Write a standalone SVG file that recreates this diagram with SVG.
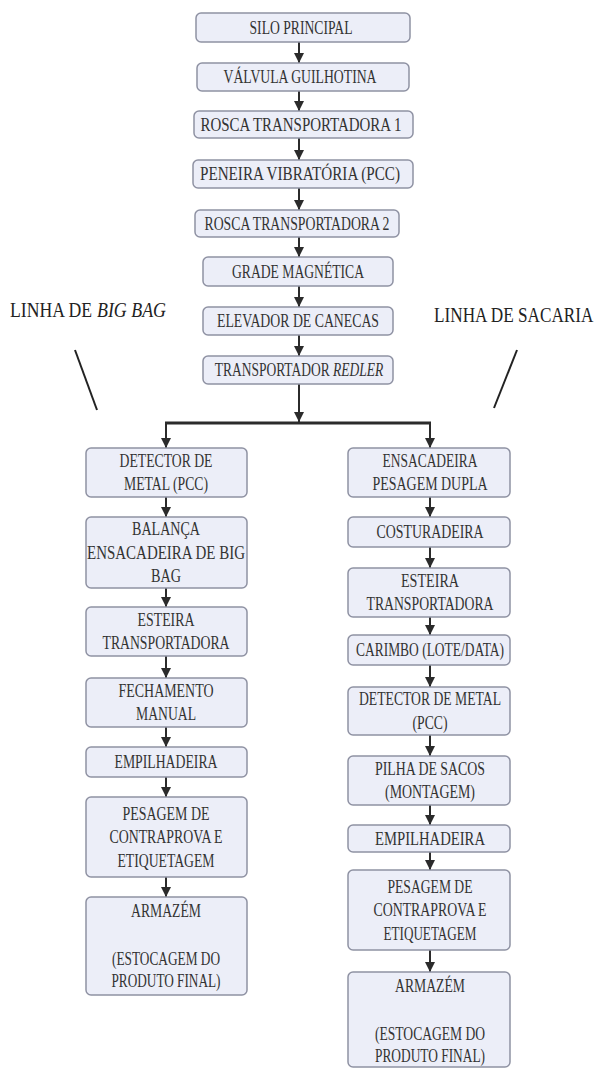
<svg xmlns="http://www.w3.org/2000/svg" width="602" height="1068" viewBox="0 0 602 1068">
<defs>
<marker id="ah" markerUnits="userSpaceOnUse" markerWidth="10" markerHeight="10" viewBox="0 0 10 10" refX="10" refY="5" orient="auto">
<path d="M0,0 L10,5 L0,10 z" fill="#2b2b2b"/>
</marker>
<style>
.box{fill:#eceef8;stroke:#8f92a3;stroke-width:1.5}
.t{font-family:"Liberation Serif","Times New Roman",serif;font-size:18px;fill:#333;text-anchor:middle}
.lbl{font-family:"Liberation Serif","Times New Roman",serif;font-size:20px;fill:#222}
.c{fill:none;stroke:#2b2b2b;stroke-width:2;marker-end:url(#ah)}
.bus{fill:none;stroke:#2b2b2b;stroke-width:3}
.sl{stroke:#222;stroke-width:2}
</style>
</defs>
<rect width="602" height="1068" fill="#ffffff"/>

<g id="labels">
<text class="lbl" x="10" y="317" textLength="82" lengthAdjust="spacingAndGlyphs">LINHA DE</text>
<text class="lbl" x="97" y="317" textLength="69" lengthAdjust="spacingAndGlyphs" font-style="italic">BIG BAG</text>
<text class="lbl" transform="translate(434,322) scale(0.86,1)" x="0" y="0">LINHA DE SACARIA</text>
<line class="sl" x1="75" y1="350" x2="97" y2="410"/>
<line class="sl" x1="517" y1="350" x2="494" y2="408"/>
</g>

<g id="connectors">
<path class="c" d="M299 42 V63"/>
<path class="c" d="M299 91 V111"/>
<path class="c" d="M299 138 V160"/>
<path class="c" d="M299 188 V210"/>
<path class="c" d="M299 237 V257"/>
<path class="c" d="M299 286 V307"/>
<path class="c" d="M299 335 V356"/>
<path class="c" d="M299 384 V422"/>
<path class="bus" d="M165 423 H431"/>
<path class="c" d="M166 423 V448"/>
<path class="c" d="M166 497 V517"/>
<path class="c" d="M166 588 V607"/>
<path class="c" d="M166 656 V678"/>
<path class="c" d="M166 727 V747"/>
<path class="c" d="M166 777 V797"/>
<path class="c" d="M166 877 V897"/>
<path class="c" d="M430 423 V448"/>
<path class="c" d="M430 497 V517"/>
<path class="c" d="M430 547 V568"/>
<path class="c" d="M430 617 V635"/>
<path class="c" d="M430 665 V687"/>
<path class="c" d="M430 735 V756"/>
<path class="c" d="M430 805 V825"/>
<path class="c" d="M430 852 V870"/>
<path class="c" d="M430 950 V972"/>
</g>

<g id="n-silo"><rect class="box" x="196" y="13" width="214" height="29" rx="5"/>
<text class="t" x="301" y="33.5" textLength="103" lengthAdjust="spacingAndGlyphs">SILO PRINCIPAL</text></g>
<g id="n-valvula"><rect class="box" x="197" y="63" width="212" height="28" rx="5"/>
<text class="t" x="300" y="83" textLength="153" lengthAdjust="spacingAndGlyphs">VÁLVULA GUILHOTINA</text></g>
<g id="n-rosca1"><rect class="box" x="194" y="111" width="219" height="27" rx="5"/>
<text class="t" x="301" y="130.5" textLength="201" lengthAdjust="spacingAndGlyphs">ROSCA TRANSPORTADORA 1</text></g>
<g id="n-peneira"><rect class="box" x="193" y="160" width="220" height="28" rx="5"/>
<text class="t" x="300" y="180" textLength="200" lengthAdjust="spacingAndGlyphs">PENEIRA VIBRATÓRIA (PCC)</text></g>
<g id="n-rosca2"><rect class="box" x="195" y="210" width="204" height="27" rx="5"/>
<text class="t" x="297" y="229.5" textLength="185" lengthAdjust="spacingAndGlyphs">ROSCA TRANSPORTADORA 2</text></g>
<g id="n-grade"><rect class="box" x="203" y="257" width="190" height="29" rx="5"/>
<text class="t" x="298" y="277.5" textLength="132" lengthAdjust="spacingAndGlyphs">GRADE MAGNÉTICA</text></g>
<g id="n-elevador"><rect class="box" x="203" y="307" width="190" height="28" rx="5"/>
<text class="t" x="298" y="327" textLength="162" lengthAdjust="spacingAndGlyphs">ELEVADOR DE CANECAS</text></g>
<g id="n-redler"><rect class="box" x="203" y="356" width="190" height="28" rx="5"/>
<text class="t" transform="translate(299,376) scale(0.75,1)" x="0" y="0">TRANSPORTADOR <tspan font-style="italic">REDLER</tspan></text></g>

<g id="l-detector"><rect class="box" x="86" y="448" width="161" height="49" rx="5"/>
<text class="t" x="166" y="466.75" textLength="93" lengthAdjust="spacingAndGlyphs">DETECTOR DE</text>
<text class="t" x="166" y="490.25" textLength="84" lengthAdjust="spacingAndGlyphs">METAL (PCC)</text></g>
<g id="l-balanca"><rect class="box" x="86" y="517" width="161" height="71" rx="5"/>
<text class="t" x="166" y="535" textLength="68" lengthAdjust="spacingAndGlyphs">BALANÇA</text>
<text class="t" x="166" y="558.5" textLength="158" lengthAdjust="spacingAndGlyphs">ENSACADEIRA DE BIG</text>
<text class="t" x="166" y="582" textLength="30" lengthAdjust="spacingAndGlyphs">BAG</text></g>
<g id="l-esteira"><rect class="box" x="86" y="607" width="161" height="49" rx="5"/>
<text class="t" x="166" y="625.75" textLength="57" lengthAdjust="spacingAndGlyphs">ESTEIRA</text>
<text class="t" x="166" y="649.25" textLength="127" lengthAdjust="spacingAndGlyphs">TRANSPORTADORA</text></g>
<g id="l-fechamento"><rect class="box" x="86" y="678" width="161" height="49" rx="5"/>
<text class="t" x="166" y="696.75" textLength="95" lengthAdjust="spacingAndGlyphs">FECHAMENTO</text>
<text class="t" x="166" y="720.25" textLength="60" lengthAdjust="spacingAndGlyphs">MANUAL</text></g>
<g id="l-empilhadeira"><rect class="box" x="86" y="747" width="161" height="30" rx="5"/>
<text class="t" x="166" y="768" textLength="103" lengthAdjust="spacingAndGlyphs">EMPILHADEIRA</text></g>
<g id="l-pesagem"><rect class="box" x="86" y="797" width="161" height="80" rx="5"/>
<text class="t" x="166" y="819.5" textLength="87" lengthAdjust="spacingAndGlyphs">PESAGEM DE</text>
<text class="t" x="166" y="843" textLength="113" lengthAdjust="spacingAndGlyphs">CONTRAPROVA E</text>
<text class="t" x="166" y="866.5" textLength="97" lengthAdjust="spacingAndGlyphs">ETIQUETAGEM</text></g>
<g id="l-armazem"><rect class="box" x="86" y="897" width="161" height="98" rx="5"/>
<text class="t" x="166" y="917" textLength="70" lengthAdjust="spacingAndGlyphs">ARMAZÉM</text>
<text class="t" x="166" y="965" textLength="108" lengthAdjust="spacingAndGlyphs">(ESTOCAGEM DO</text>
<text class="t" x="166" y="987" textLength="109" lengthAdjust="spacingAndGlyphs">PRODUTO FINAL)</text></g>

<g id="r-ensacadeira"><rect class="box" x="348" y="448" width="162" height="49" rx="5"/>
<text class="t" x="430" y="466.75" textLength="95" lengthAdjust="spacingAndGlyphs">ENSACADEIRA</text>
<text class="t" x="430" y="490.25" textLength="115" lengthAdjust="spacingAndGlyphs">PESAGEM DUPLA</text></g>
<g id="r-costuradeira"><rect class="box" x="348" y="517" width="162" height="30" rx="5"/>
<text class="t" x="430" y="538" textLength="107" lengthAdjust="spacingAndGlyphs">COSTURADEIRA</text></g>
<g id="r-esteira"><rect class="box" x="348" y="568" width="162" height="49" rx="5"/>
<text class="t" x="430" y="586.75" textLength="58" lengthAdjust="spacingAndGlyphs">ESTEIRA</text>
<text class="t" x="430" y="610.25" textLength="127" lengthAdjust="spacingAndGlyphs">TRANSPORTADORA</text></g>
<g id="r-carimbo"><rect class="box" x="348" y="635" width="162" height="30" rx="5"/>
<text class="t" x="430" y="656" textLength="148" lengthAdjust="spacingAndGlyphs">CARIMBO (LOTE/DATA)</text></g>
<g id="r-detector"><rect class="box" x="348" y="687" width="162" height="48" rx="5"/>
<text class="t" x="430" y="705.25" textLength="142" lengthAdjust="spacingAndGlyphs">DETECTOR DE METAL</text>
<text class="t" x="430" y="728.75" textLength="35" lengthAdjust="spacingAndGlyphs">(PCC)</text></g>
<g id="r-pilha"><rect class="box" x="348" y="756" width="162" height="49" rx="5"/>
<text class="t" x="430" y="774.75" textLength="110" lengthAdjust="spacingAndGlyphs">PILHA DE SACOS</text>
<text class="t" x="430" y="798.25" textLength="90" lengthAdjust="spacingAndGlyphs">(MONTAGEM)</text></g>
<g id="r-empilhadeira"><rect class="box" x="348" y="825" width="162" height="27" rx="5"/>
<text class="t" x="430" y="844.5" textLength="110" lengthAdjust="spacingAndGlyphs">EMPILHADEIRA</text></g>
<g id="r-pesagem"><rect class="box" x="348" y="870" width="162" height="80" rx="5"/>
<text class="t" x="430" y="892.5" textLength="85" lengthAdjust="spacingAndGlyphs">PESAGEM DE</text>
<text class="t" x="430" y="916" textLength="113" lengthAdjust="spacingAndGlyphs">CONTRAPROVA E</text>
<text class="t" x="430" y="939.5" textLength="93" lengthAdjust="spacingAndGlyphs">ETIQUETAGEM</text></g>
<g id="r-armazem"><rect class="box" x="348" y="972" width="162" height="95" rx="5"/>
<text class="t" x="430" y="992" textLength="70" lengthAdjust="spacingAndGlyphs">ARMAZÉM</text>
<text class="t" x="430" y="1040" textLength="110" lengthAdjust="spacingAndGlyphs">(ESTOCAGEM DO</text>
<text class="t" x="430" y="1062" textLength="110" lengthAdjust="spacingAndGlyphs">PRODUTO FINAL)</text></g>
</svg>
